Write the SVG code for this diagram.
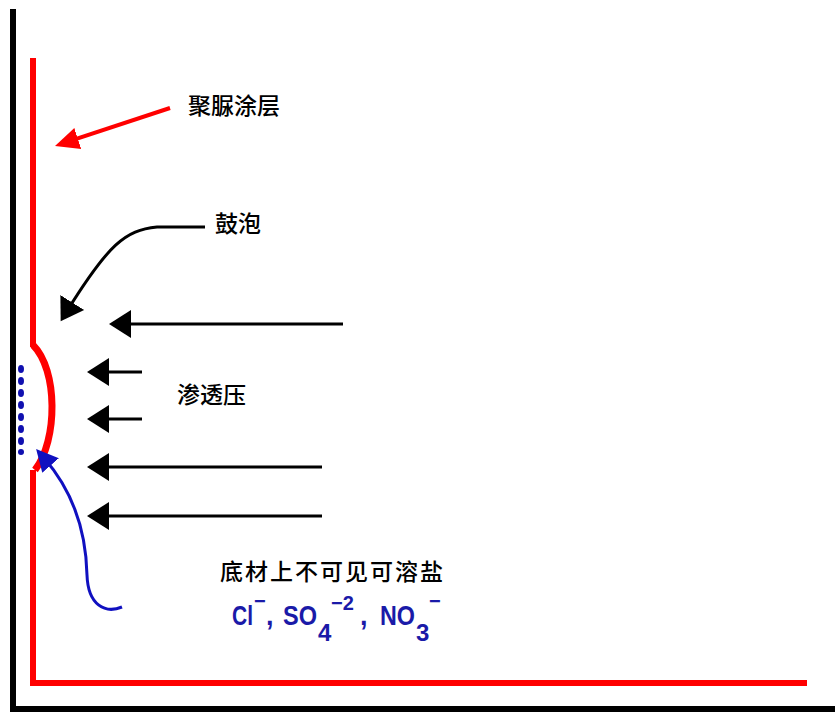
<svg xmlns="http://www.w3.org/2000/svg" width="835" height="713" viewBox="0 0 835 713">
<style>
.cjk{font-family:"Noto Sans CJK SC","Noto Sans",sans-serif;font-size:23px;fill:#000;font-weight:500}
.ion{font-family:"Liberation Sans",Arial,sans-serif;fill:#1a1aa8;font-weight:bold}
.blk{stroke:#000;stroke-width:3;fill:none}
</style>
<defs>
<marker id="ah" markerUnits="userSpaceOnUse" viewBox="0 -15 24 30" refX="10" refY="0" markerWidth="24" markerHeight="30" orient="auto"><path d="M0,-14 L22,0 L0,14 z" fill="#000"/></marker>
<marker id="ahr" markerUnits="userSpaceOnUse" viewBox="0 -13 26 26" refX="12" refY="0" markerWidth="26" markerHeight="26" orient="auto"><path d="M0,-11 L24,0 L0,11 z" fill="#f00"/></marker>
<marker id="ahb" markerUnits="userSpaceOnUse" viewBox="0 -13 26 26" refX="10" refY="0" markerWidth="26" markerHeight="26" orient="auto"><path d="M0,-11 L22,0 L0,11 z" fill="#1010c0"/></marker>
</defs>
<rect width="835" height="713" fill="#fff"/>
<g id="frame">
<path d="M13,9 V709 H835" fill="none" stroke="#000" stroke-width="6"/>
</g>
<g id="coating">
<path d="M33,58 V347 M33,470 V683 H807" fill="none" stroke="#f00" stroke-width="6"/>
<path d="M33,345 C58,370 58,440 35,470" fill="none" stroke="#f00" stroke-width="7"/>
</g>
<g id="salts" fill="#1010b0">
<ellipse cx="21" cy="369" rx="3" ry="4"/>
<ellipse cx="21" cy="381" rx="3" ry="4"/>
<ellipse cx="21" cy="393" rx="3" ry="4"/>
<ellipse cx="21" cy="405" rx="3" ry="4"/>
<ellipse cx="21" cy="417" rx="3" ry="4"/>
<ellipse cx="21" cy="429" rx="3" ry="4"/>
<ellipse cx="21" cy="441" rx="3" ry="4"/>
<ellipse cx="21" cy="452" rx="3" ry="3"/>
</g>
<g id="connectors">
<line x1="170" y1="108" x2="66.4" y2="142.2" stroke="#f00" stroke-width="4" marker-end="url(#ahr)"/>
<path d="M205,227 L157,227 C125,230 108,245 67,311" class="blk" marker-end="url(#ah)"/>
<line x1="343" y1="324" x2="121" y2="324" class="blk" marker-end="url(#ah)"/>
<line x1="142" y1="372" x2="99" y2="372" class="blk" marker-end="url(#ah)"/>
<line x1="142" y1="419" x2="99" y2="419" class="blk" marker-end="url(#ah)"/>
<line x1="322" y1="467" x2="99" y2="467" class="blk" marker-end="url(#ah)"/>
<line x1="322" y1="516" x2="99" y2="516" class="blk" marker-end="url(#ah)"/>
<path d="M122,607 C105,614 88,605 87,575 C86,530 72,490 44,458" fill="none" stroke="#1010c0" stroke-width="3" marker-end="url(#ahb)"/>
</g>
<g id="label-coating"><text class="cjk" x="188" y="114" font-size="24" font-weight="bold">聚脲涂层</text></g>
<g id="label-blister"><text class="cjk" x="215" y="232">鼓泡</text></g>
<g id="label-osmotic"><text class="cjk" x="177" y="403" font-weight="bold">渗透压</text></g>
<g id="label-salts"><text class="cjk" x="220" y="580" font-size="24" textLength="223">底材上不可见可溶盐</text></g>
<g id="label-ions">
<text class="ion" font-size="27"><tspan x="232" y="625" textLength="21" lengthAdjust="spacingAndGlyphs">Cl</tspan><tspan x="254" y="608" font-size="20">−</tspan><tspan x="266" y="625">,</tspan><tspan x="283" y="625" textLength="34" lengthAdjust="spacingAndGlyphs">SO</tspan><tspan x="318" y="641" font-size="24">4</tspan><tspan x="331" y="610" font-size="20">−2</tspan><tspan x="360" y="625">,</tspan><tspan x="380" y="625" textLength="35" lengthAdjust="spacingAndGlyphs">NO</tspan><tspan x="416" y="641" font-size="24">3</tspan><tspan x="429" y="608" font-size="20">−</tspan></text>
</g>
</svg>
